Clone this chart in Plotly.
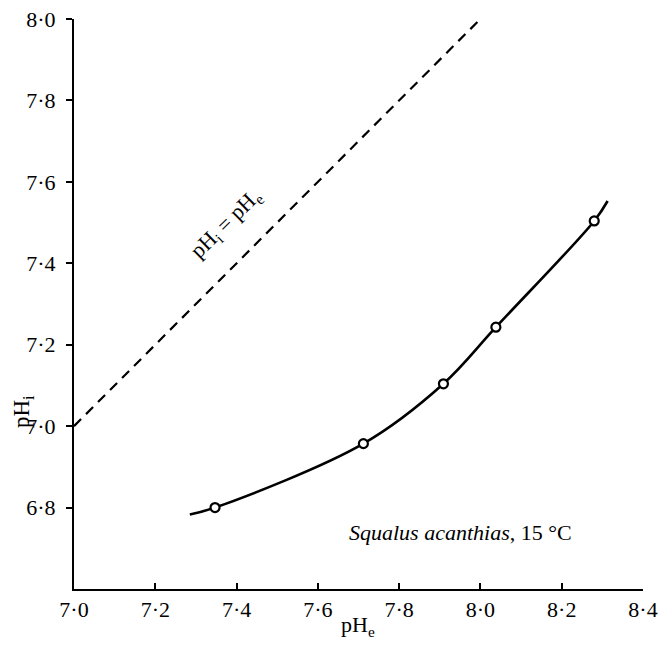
import plotly.graph_objects as go

# Data
pHe_points = [7.347, 7.712, 7.909, 8.038, 8.280]
pHi_points = [6.800, 6.957, 7.104, 7.243, 7.504]

# smooth fitted curve (hand-drawn in original), passing through the points
curve_x = [7.285, 7.347, 7.712, 7.909, 8.038, 8.280, 8.313]
curve_y = [6.783, 6.800, 6.957, 7.104, 7.243, 7.504, 7.553]

# identity line pHi = pHe
ident_x = [7.0, 8.0]
ident_y = [7.0, 8.0]

x_ticks = [7.0, 7.2, 7.4, 7.6, 7.8, 8.0, 8.2, 8.4]
y_ticks = [6.8, 7.0, 7.2, 7.4, 7.6, 7.8, 8.0]
x_ticktext = ["7·0", "7·2", "7·4", "7·6", "7·8", "8·0", "8·2", "8·4"]
y_ticktext = ["6·8", "7·0", "7·2", "7·4", "7·6", "7·8", "8·0"]

FONT = "Liberation Serif"

fig = go.Figure()
fig.add_trace(go.Scatter(x=ident_x, y=ident_y, mode="lines",
                         line=dict(color="black", width=2.2, dash="10px,7px"),
                         hoverinfo="skip", showlegend=False))
fig.add_trace(go.Scatter(x=curve_x, y=curve_y, mode="lines",
                         line=dict(color="black", width=2.6, shape="spline", smoothing=1.0),
                         hoverinfo="skip", showlegend=False))
fig.add_trace(go.Scatter(x=pHe_points, y=pHi_points, mode="markers",
                         marker=dict(symbol="circle", size=9, color="white",
                                     line=dict(color="black", width=2.2)),
                         showlegend=False, cliponaxis=False))

# page body has an 8px margin: the figure is sized/offset to compensate
fig.update_layout(
    width=652, height=645,
    margin=dict(l=66, r=17, t=11, b=64),
    paper_bgcolor="white", plot_bgcolor="white",
    font=dict(family=FONT, color="black", size=22),
    xaxis=dict(range=[7.0, 8.4], tickvals=x_ticks, ticktext=x_ticktext,
               automargin=False, ticklabeloverflow="allow",
               showgrid=False, zeroline=False, showline=True, linecolor="black",
               linewidth=2, ticks="inside", ticklen=6, tickwidth=2, tickcolor="black",
               tickfont=dict(family=FONT, size=22, color="black")),
    yaxis=dict(range=[6.6, 8.0], tickvals=y_ticks, ticktext=y_ticktext,
               automargin=False, ticklabelstandoff=6, ticklabeloverflow="allow",
               showgrid=False, zeroline=False, showline=True, linecolor="black",
               linewidth=2, ticks="outside", ticklen=6, tickwidth=2, tickcolor="black",
               tickfont=dict(family=FONT, size=22, color="black")),
    annotations=[
        dict(text="pH<sub>e</sub>", xref="paper", yref="paper", x=0.499, y=-0.0645,
             showarrow=False, font=dict(family=FONT, size=22, color="black"),
             xanchor="center", yanchor="middle"),
        dict(text="pH<sub>i</sub>", xref="paper", yref="paper", x=-0.0898, y=0.312,
             showarrow=False, textangle=-90, font=dict(family=FONT, size=23, color="black"),
             xanchor="center", yanchor="middle"),
        dict(text="pH<sub>i</sub> = pH<sub>e</sub>", xref="x", yref="y", x=7.375, y=7.497,
             showarrow=False, textangle=-44.5, font=dict(family=FONT, size=22, color="black"),
             xanchor="center", yanchor="middle"),
        dict(text="<i>Squalus acanthias</i>, 15 °C", xref="x", yref="y", x=7.95, y=6.74,
             showarrow=False, font=dict(family=FONT, size=22, color="black"),
             xanchor="center", yanchor="middle"),
    ],
)

fig.write_html("out.html")
